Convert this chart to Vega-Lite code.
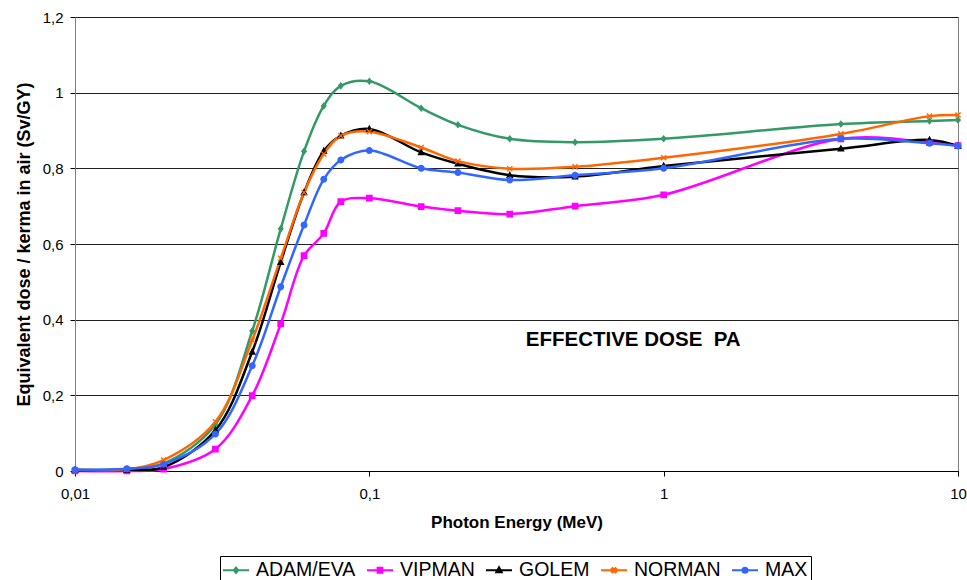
{
  "$schema": "https://vega.github.io/schema/vega-lite/v6.json",
  "width": 883,
  "height": 454,
  "autosize": {"type": "none"},
  "padding": {"left": 75, "top": 17, "right": 9, "bottom": 109},
  "background": "white",
  "config": {
    "font": "Liberation Sans",
    "view": {"stroke": "#808080", "strokeWidth": 1}
  },
  "data": {
    "values": [
      {"series": "ADAM/EVA", "E": 0.01, "v": 0.003},
      {"series": "ADAM/EVA", "E": 0.015, "v": 0.005},
      {"series": "ADAM/EVA", "E": 0.02, "v": 0.02},
      {"series": "ADAM/EVA", "E": 0.03, "v": 0.123},
      {"series": "ADAM/EVA", "E": 0.04, "v": 0.37},
      {"series": "ADAM/EVA", "E": 0.05, "v": 0.64},
      {"series": "ADAM/EVA", "E": 0.06, "v": 0.845},
      {"series": "ADAM/EVA", "E": 0.07, "v": 0.965},
      {"series": "ADAM/EVA", "E": 0.08, "v": 1.018},
      {"series": "ADAM/EVA", "E": 0.1, "v": 1.03},
      {"series": "ADAM/EVA", "E": 0.15, "v": 0.959},
      {"series": "ADAM/EVA", "E": 0.2, "v": 0.915},
      {"series": "ADAM/EVA", "E": 0.3, "v": 0.878},
      {"series": "ADAM/EVA", "E": 0.5, "v": 0.869},
      {"series": "ADAM/EVA", "E": 1, "v": 0.878},
      {"series": "ADAM/EVA", "E": 4, "v": 0.917},
      {"series": "ADAM/EVA", "E": 8, "v": 0.925},
      {"series": "ADAM/EVA", "E": 10, "v": 0.928},
      {"series": "VIPMAN", "E": 0.01, "v": 0.0},
      {"series": "VIPMAN", "E": 0.015, "v": 0.0},
      {"series": "VIPMAN", "E": 0.02, "v": 0.005},
      {"series": "VIPMAN", "E": 0.03, "v": 0.058},
      {"series": "VIPMAN", "E": 0.04, "v": 0.199},
      {"series": "VIPMAN", "E": 0.05, "v": 0.389},
      {"series": "VIPMAN", "E": 0.06, "v": 0.569},
      {"series": "VIPMAN", "E": 0.07, "v": 0.628},
      {"series": "VIPMAN", "E": 0.08, "v": 0.712},
      {"series": "VIPMAN", "E": 0.1, "v": 0.721},
      {"series": "VIPMAN", "E": 0.15, "v": 0.699},
      {"series": "VIPMAN", "E": 0.2, "v": 0.688},
      {"series": "VIPMAN", "E": 0.3, "v": 0.679},
      {"series": "VIPMAN", "E": 0.5, "v": 0.7},
      {"series": "VIPMAN", "E": 1, "v": 0.73},
      {"series": "VIPMAN", "E": 4, "v": 0.878},
      {"series": "VIPMAN", "E": 8, "v": 0.868},
      {"series": "VIPMAN", "E": 10, "v": 0.86},
      {"series": "GOLEM", "E": 0.01, "v": 0.002},
      {"series": "GOLEM", "E": 0.015, "v": 0.003},
      {"series": "GOLEM", "E": 0.02, "v": 0.01},
      {"series": "GOLEM", "E": 0.03, "v": 0.108},
      {"series": "GOLEM", "E": 0.04, "v": 0.315},
      {"series": "GOLEM", "E": 0.05, "v": 0.552},
      {"series": "GOLEM", "E": 0.06, "v": 0.736},
      {"series": "GOLEM", "E": 0.07, "v": 0.846},
      {"series": "GOLEM", "E": 0.08, "v": 0.886},
      {"series": "GOLEM", "E": 0.1, "v": 0.904},
      {"series": "GOLEM", "E": 0.15, "v": 0.842},
      {"series": "GOLEM", "E": 0.2, "v": 0.812},
      {"series": "GOLEM", "E": 0.3, "v": 0.782},
      {"series": "GOLEM", "E": 0.5, "v": 0.778},
      {"series": "GOLEM", "E": 1, "v": 0.806},
      {"series": "GOLEM", "E": 4, "v": 0.852},
      {"series": "GOLEM", "E": 8, "v": 0.875},
      {"series": "GOLEM", "E": 10, "v": 0.859},
      {"series": "NORMAN", "E": 0.01, "v": 0.003},
      {"series": "NORMAN", "E": 0.015, "v": 0.005},
      {"series": "NORMAN", "E": 0.02, "v": 0.029},
      {"series": "NORMAN", "E": 0.03, "v": 0.13},
      {"series": "NORMAN", "E": 0.04, "v": 0.346},
      {"series": "NORMAN", "E": 0.05, "v": 0.562},
      {"series": "NORMAN", "E": 0.06, "v": 0.736},
      {"series": "NORMAN", "E": 0.07, "v": 0.838},
      {"series": "NORMAN", "E": 0.08, "v": 0.886},
      {"series": "NORMAN", "E": 0.1, "v": 0.897},
      {"series": "NORMAN", "E": 0.15, "v": 0.855},
      {"series": "NORMAN", "E": 0.2, "v": 0.819},
      {"series": "NORMAN", "E": 0.3, "v": 0.799},
      {"series": "NORMAN", "E": 0.5, "v": 0.804},
      {"series": "NORMAN", "E": 1, "v": 0.828},
      {"series": "NORMAN", "E": 4, "v": 0.891},
      {"series": "NORMAN", "E": 8, "v": 0.938},
      {"series": "NORMAN", "E": 10, "v": 0.941},
      {"series": "MAX", "E": 0.01, "v": 0.003},
      {"series": "MAX", "E": 0.015, "v": 0.006},
      {"series": "MAX", "E": 0.02, "v": 0.018},
      {"series": "MAX", "E": 0.03, "v": 0.098},
      {"series": "MAX", "E": 0.04, "v": 0.278},
      {"series": "MAX", "E": 0.05, "v": 0.487},
      {"series": "MAX", "E": 0.06, "v": 0.65},
      {"series": "MAX", "E": 0.07, "v": 0.771},
      {"series": "MAX", "E": 0.08, "v": 0.822},
      {"series": "MAX", "E": 0.1, "v": 0.847},
      {"series": "MAX", "E": 0.15, "v": 0.8},
      {"series": "MAX", "E": 0.2, "v": 0.789},
      {"series": "MAX", "E": 0.3, "v": 0.769},
      {"series": "MAX", "E": 0.5, "v": 0.782},
      {"series": "MAX", "E": 1, "v": 0.8},
      {"series": "MAX", "E": 4, "v": 0.878},
      {"series": "MAX", "E": 8, "v": 0.866},
      {"series": "MAX", "E": 10, "v": 0.859}
    ]
  },
  "encoding": {
    "x": {
      "field": "E",
      "type": "quantitative",
      "scale": {"type": "log", "domain": [0.01, 10], "nice": false},
      "axis": {
        "title": "Photon Energy (MeV)",
        "titleFontSize": 17,
        "titleFontWeight": "bold",
        "titleColor": "#000000",
        "titlePadding": 13,
        "values": [0.01, 0.1, 1, 10],
        "format": "~g",
        "labelExpr": "replace(datum.label, '.', ',')",
        "labelFontSize": 15,
        "labelColor": "#000000",
        "labelFlush": false,
        "labelOverlap": false,
        "labelPadding": 10,
        "tickSize": 5,
        "tickColor": "#000000",
        "domainColor": "#000000",
        "grid": false
      }
    },
    "y": {
      "field": "v",
      "type": "quantitative",
      "scale": {"domain": [0, 1.2], "nice": false},
      "axis": {
        "title": "Equivalent dose / kerma in air (Sv/GY)",
        "titleFontSize": 18,
        "titleFontWeight": "bold",
        "titleColor": "#000000",
        "titlePadding": 9,
        "values": [0, 0.2, 0.4, 0.6, 0.8, 1, 1.2],
        "format": ".1~f",
        "labelExpr": "replace(datum.label, '.', ',')",
        "labelFontSize": 15,
        "labelColor": "#000000",
        "labelPadding": 7,
        "tickSize": 5,
        "tickColor": "#000000",
        "domainColor": "#808080",
        "grid": true,
        "gridColor": "#202020",
        "gridWidth": 1,
        "gridOpacity": 1
      }
    }
  },
  "layer": [
    {
      "mark": {"type": "line", "interpolate": "catmull-rom", "strokeWidth": 2.5},
      "encoding": {
        "stroke": {
          "field": "series",
          "type": "nominal",
          "scale": {
            "domain": ["ADAM/EVA", "VIPMAN", "GOLEM", "NORMAN", "MAX"],
            "range": ["#339966", "#ff00ff", "#000000", "#ff6600", "#3366ff"]
          },
          "legend": {
            "title": null,
            "orient": "none",
            "direction": "horizontal",
            "legendX": 145,
            "legendY": 539,
            "padding": 3,
            "strokeColor": "#000000",
            "labelFontSize": 19.5,
            "labelColor": "#000000",
            "labelOffset": 9,
            "columnPadding": 7,
            "symbolSize": 400,
            "symbolStrokeWidth": 2,
            "symbolOffset": 2
          }
        }
      }
    },
    {
      "mark": {"type": "point", "filled": true, "size": 784, "opacity": 1},
      "encoding": {
        "fill": {
          "field": "series",
          "type": "nominal",
          "scale": {
            "domain": ["ADAM/EVA", "VIPMAN", "GOLEM", "NORMAN", "MAX"],
            "range": ["#339966", "#ff00ff", "#000000", "#ff6600", "#3366ff"]
          },
          "legend": {
            "title": null,
            "orient": "none",
            "direction": "horizontal",
            "legendX": 145,
            "legendY": 539,
            "padding": 3,
            "strokeColor": "#000000",
            "labelFontSize": 19.5,
            "labelColor": "#000000",
            "labelOffset": 9,
            "columnPadding": 7,
            "symbolSize": 400,
            "symbolStrokeWidth": 2,
            "symbolOffset": 2
          }
        },
        "shape": {
          "field": "series",
          "type": "nominal",
          "scale": {
            "domain": ["ADAM/EVA", "VIPMAN", "GOLEM", "NORMAN", "MAX"],
            "range": [
              "M-1.3,0L1.3,0M0,-0.27L0.22,0L0,0.27L-0.22,0Z",
              "M-1.3,0L1.3,0M-0.24,-0.24H0.24V0.24H-0.24Z",
              "M-1.3,0L1.3,0M0,-0.3L0.27,0.2H-0.27Z",
              "M-1.3,0L1.3,0M-0.22,-0.15L-0.15,-0.22L0,-0.07L0.15,-0.22L0.22,-0.15L0.07,0L0.22,0.15L0.15,0.22L0,0.07L-0.15,0.22L-0.22,0.15L-0.07,0Z",
              "M-1.3,0L1.3,0M0.25,0A0.25,0.25 0 1,1 -0.25,0A0.25,0.25 0 1,1 0.25,0Z"
            ]
          },
          "legend": {
            "title": null,
            "orient": "none",
            "direction": "horizontal",
            "legendX": 145,
            "legendY": 539,
            "padding": 3,
            "strokeColor": "#000000",
            "labelFontSize": 19.5,
            "labelColor": "#000000",
            "labelOffset": 9,
            "columnPadding": 7,
            "symbolSize": 400,
            "symbolStrokeWidth": 2,
            "symbolOffset": 2
          }
        }
      }
    },
    {
      "data": {"values": [{"E": 0.788, "v": 0.346, "label": "EFFECTIVE DOSE \u00a0PA"}]},
      "mark": {"type": "text", "fontWeight": "bold", "fontSize": 20.5, "align": "center", "baseline": "middle", "color": "#000000"},
      "encoding": {"text": {"field": "label"}}
    }
  ]
}
